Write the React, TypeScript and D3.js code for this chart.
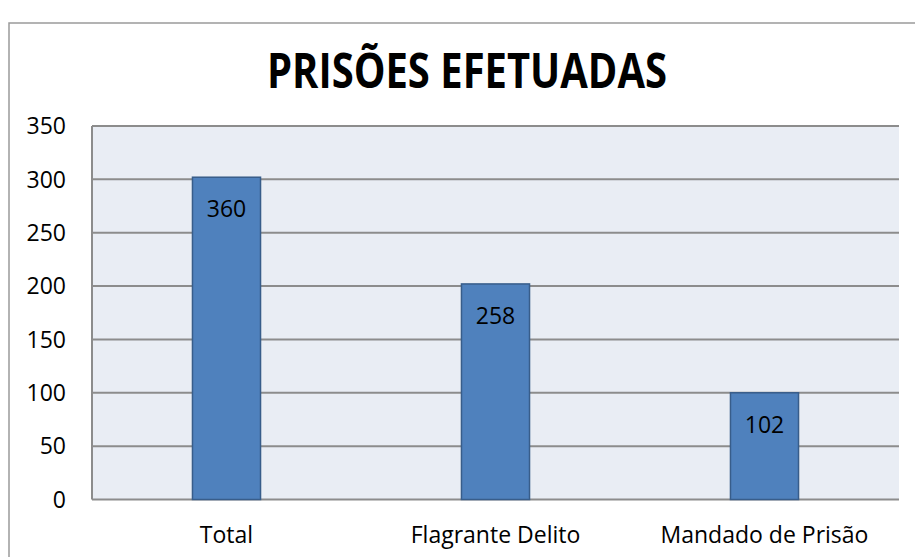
import React, { useRef, useEffect } from 'react';
import * as d3 from 'd3';

const categories = ['Total', 'Flagrante Delito', 'Mandado de Prisão'];
// bar heights as drawn in the picture
const barValues = [302, 202, 100];
// data labels as printed on the bars
const labelValues = [360, 258, 102];
const yTicks = [0, 50, 100, 150, 200, 250, 300, 350];
const title = 'PRISÕES EFETUADAS';

const App: React.FC = () => {
    const svgRef = useRef<SVGSVGElement>(null);

    useEffect(() => {
        if (!svgRef.current) return;

        const width = 915;
        const height = 557;
        const plot = { left: 92, right: 899, top: 126, bottom: 499.5 };
        const font = "'Open Sans', sans-serif";

        d3.select(svgRef.current).selectAll('*').remove();

        const svg = d3.select(svgRef.current)
            .attr('width', width)
            .attr('height', height);

        // chart frame
        svg.append('rect')
            .attr('x', 9).attr('y', 23)
            .attr('width', width).attr('height', height)
            .attr('fill', 'white')
            .attr('stroke', '#9a9a9a')
            .attr('stroke-width', 1.5);

        svg.append('text')
            .attr('x', 467)
            .attr('y', 88)
            .attr('text-anchor', 'middle')
            .attr('textLength', 400)
            .attr('lengthAdjust', 'spacingAndGlyphs')
            .style('font-family', font)
            .style('font-weight', 'bold')
            .style('font-size', '49px')
            .text(title);

        const x = d3.scaleBand<string>()
            .domain(categories)
            .range([plot.left, plot.right])
            .padding(0);

        const y = d3.scaleLinear()
            .domain([0, 350])
            .range([plot.bottom, plot.top]);

        // plot background
        svg.append('rect')
            .attr('x', plot.left).attr('y', plot.top)
            .attr('width', plot.right - plot.left)
            .attr('height', plot.bottom - plot.top)
            .attr('fill', '#e9edf4');

        // gridlines
        svg.append('g')
            .selectAll('line')
            .data(yTicks)
            .enter()
            .append('line')
            .attr('x1', plot.left).attr('x2', plot.right)
            .attr('y1', d => y(d)).attr('y2', d => y(d))
            .attr('stroke', '#8c8c8c')
            .attr('stroke-width', 2);

        // left axis line
        svg.append('line')
            .attr('x1', plot.left).attr('x2', plot.left)
            .attr('y1', plot.top).attr('y2', plot.bottom)
            .attr('stroke', '#8c8c8c')
            .attr('stroke-width', 2);

        svg.append('g')
            .selectAll('text')
            .data(yTicks)
            .enter()
            .append('text')
            .attr('x', 66)
            .attr('y', d => y(d))
            .attr('dy', '0.36em')
            .attr('text-anchor', 'end')
            .style('font-family', font)
            .style('font-size', '23px')
            .text(d => d);

        const barW = x.bandwidth() * 0.253;

        const bars = svg.append('g')
            .selectAll('g')
            .data(categories)
            .enter()
            .append('g');

        bars.append('rect')
            .attr('x', d => x(d)! + x.bandwidth() / 2 - barW / 2)
            .attr('y', (d, i) => y(barValues[i]))
            .attr('width', barW)
            .attr('height', (d, i) => plot.bottom - y(barValues[i]))
            .attr('fill', '#4f81bd')
            .attr('stroke', '#385d8a')
            .attr('stroke-width', 1.5);

        bars.append('text')
            .attr('x', d => x(d)! + x.bandwidth() / 2)
            .attr('y', (d, i) => y(barValues[i]) + 40)
            .attr('text-anchor', 'middle')
            .style('font-family', font)
            .style('font-size', '23px')
            .text((d, i) => labelValues[i]);

        bars.append('text')
            .attr('x', d => x(d)! + x.bandwidth() / 2)
            .attr('y', 543)
            .attr('text-anchor', 'middle')
            .style('font-family', font)
            .style('font-size', '23px')
            .text(d => d);
    }, []);

    return (
        <svg ref={svgRef} style={{ position: 'absolute', left: 0, top: 0 }}></svg>
    );
};

export default App;
